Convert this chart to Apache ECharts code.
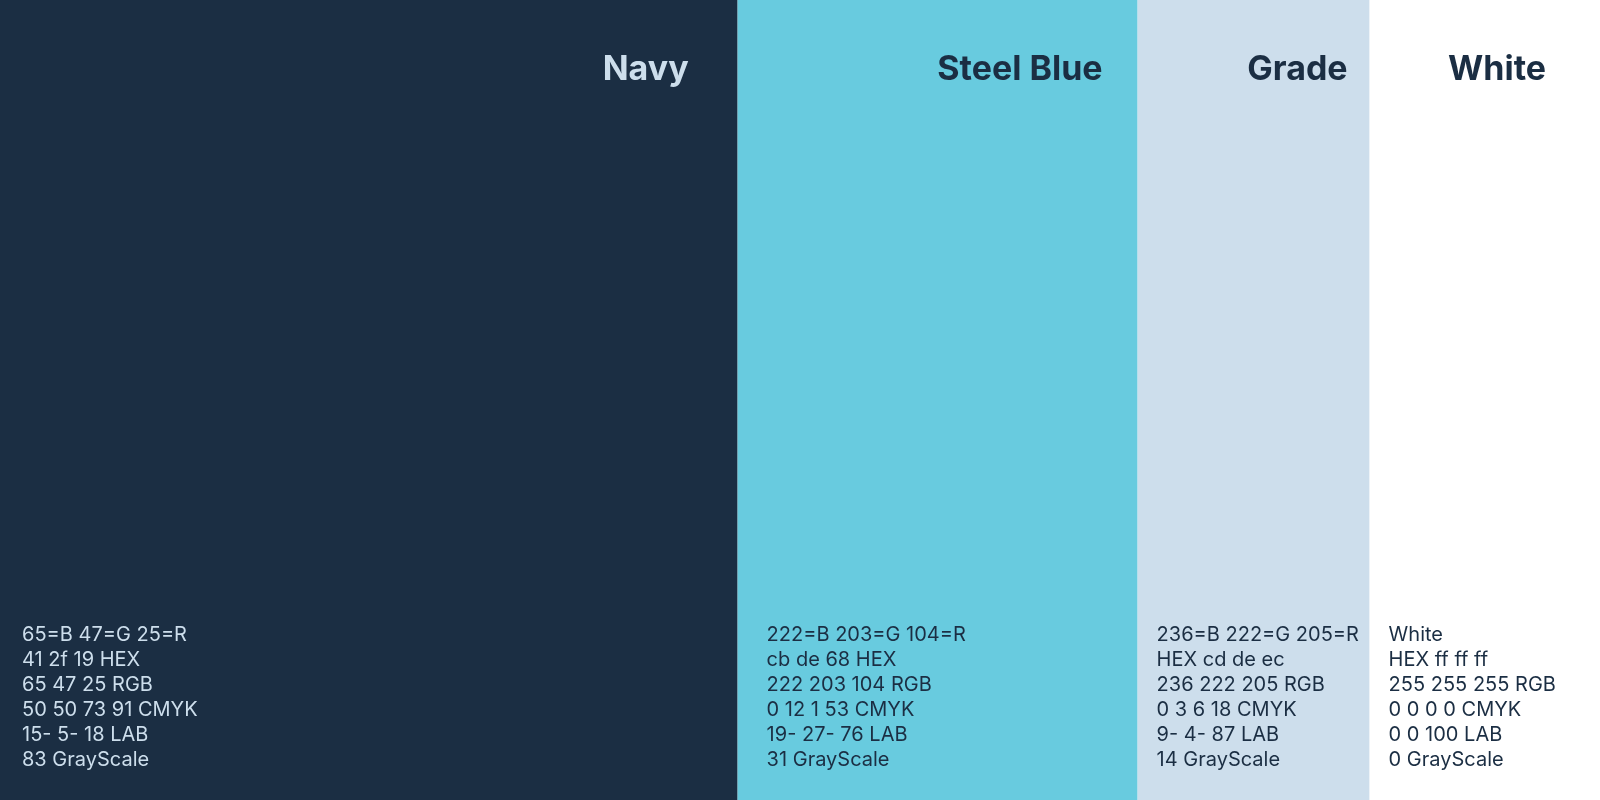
<!DOCTYPE html>
<html>
<head>
<meta charset="utf-8">
<title>Palette</title>
<script src="https://cdn.jsdelivr.net/npm/echarts@6/dist/echarts.min.js"></script>
<style>
    html, body { margin: 0; padding: 0; background: #ffffff; }
    #chart { width: 1600px; height: 800px; }
</style>
</head>
<body>
<div id="chart"></div>
<script>
// palette data
const names = ['Navy', 'Steel Blue', 'Grade', 'White'];
const shares = [46.1, 25.0, 14.5, 14.4];
const swatches = ['#1b2e43', '#68cbdf', '#cddeec', '#ffffff'];
const specLines = [
    ['65=B 47=G 25=R', '41 2f 19 HEX', '65 47 25 RGB', '50 50 73 91 CMYK', '15- 5- 18 LAB', '83 GrayScale'],
    ['222=B 203=G 104=R', 'cb de 68 HEX', '222 203 104 RGB', '0 12 1 53 CMYK', '19- 27- 76 LAB', '31 GrayScale'],
    ['236=B 222=G 205=R', 'HEX cd de ec', '236 222 205 RGB', '0 3 6 18 CMYK', '9- 4- 87 LAB', '14 GrayScale'],
    ['White', 'HEX ff ff ff', '255 255 255 RGB', '0 0 0 0 CMYK', '0 0 100 LAB', '0 GrayScale']
];

document.addEventListener('DOMContentLoaded', () => {
    const myChart = echarts.init(document.getElementById('chart'));

    const textColors = ['#cddeec', '#1b2e43', '#1b2e43', '#1b2e43'];
    const titleOffsets = [[-49, 50], [-35, 50], [-22, 50], [-54, 50]];
    const specOffsets = [[22, -28], [29, -28], [19, -28], [19, -28]];

    // coloured bands with the name in the top right corner
    const bands = names.map((name, i) => ({
        name: name,
        type: 'bar',
        stack: 'band',
        barWidth: '100%',
        silent: true,
        itemStyle: { color: swatches[i] },
        label: {
            show: true,
            position: 'insideTopRight',
            distance: 0,
            offset: titleOffsets[i],
            formatter: name,
            fontFamily: 'Inter',
            fontWeight: 'bold',
            fontSize: 34,
            lineHeight: 40,
            color: textColors[i]
        },
        data: [shares[i]]
    }));

    // transparent overlay carrying the colour specs at the bottom left
    const specs = names.map((name, i) => ({
        name: name + ' spec',
        type: 'bar',
        stack: 'spec',
        barWidth: '100%',
        barGap: '-100%',
        silent: true,
        itemStyle: { color: 'transparent' },
        label: {
            show: true,
            position: 'insideBottomLeft',
            distance: 0,
            offset: specOffsets[i],
            formatter: specLines[i].join('\n'),
            fontFamily: 'Inter',
            fontSize: 20,
            lineHeight: 25,
            color: textColors[i]
        },
        data: [shares[i]]
    }));

    const option = {
        backgroundColor: '#ffffff',
        animation: false,
        grid: { left: 0, right: 0, top: 0, bottom: 0 },
        xAxis: { type: 'value', min: 0, max: 100, show: false },
        yAxis: { type: 'category', data: ['palette'], show: false },
        series: bands.concat(specs)
    };

    myChart.setOption(option, true);

    window.addEventListener('resize', () => {
        myChart.resize();
    });
});
</script>
</body>
</html>
